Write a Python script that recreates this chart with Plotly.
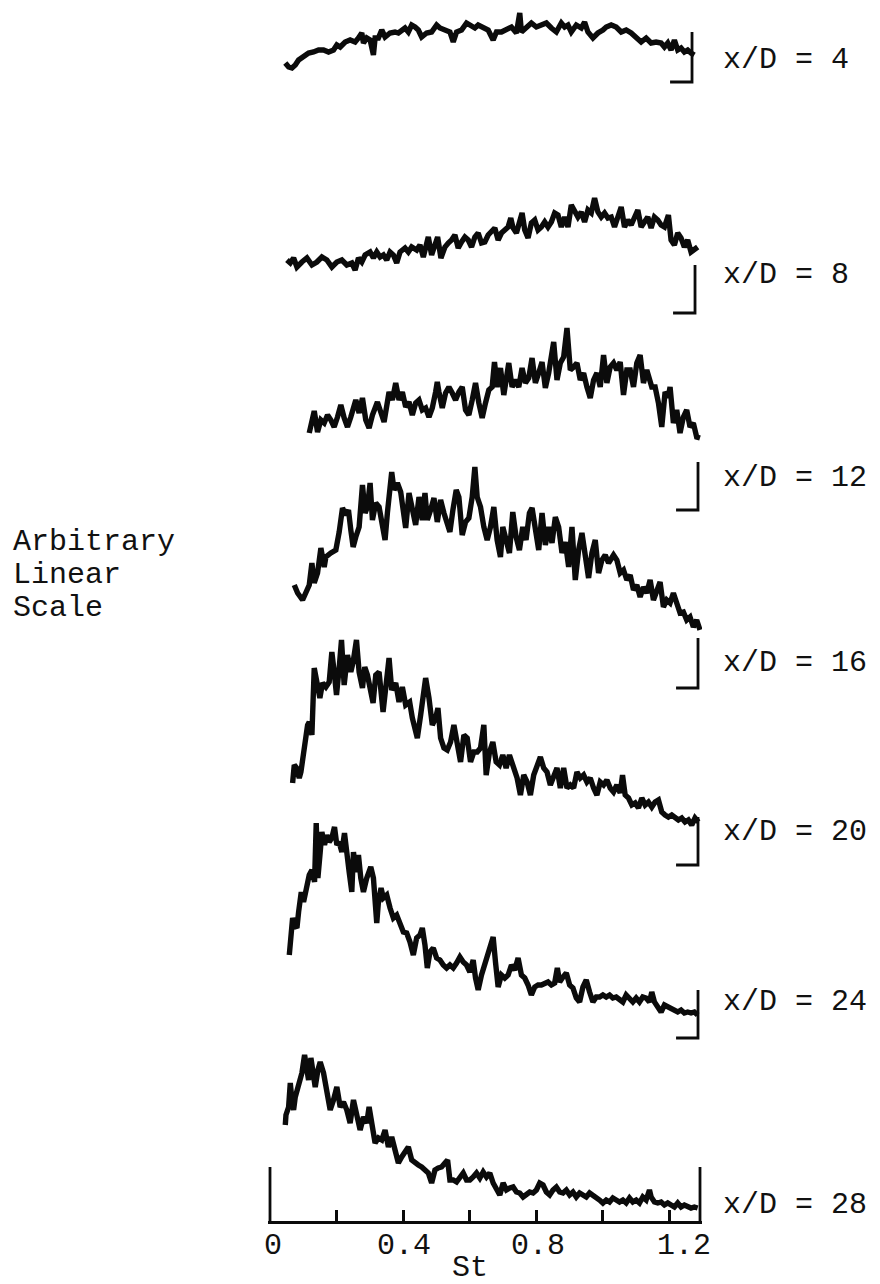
import plotly.graph_objects as go

# ---------------------------------------------------------------------------
# Spectra of the velocity fluctuation at successive stations x/D.
# Frequency is the Strouhal number St; amplitude is on an arbitrary linear
# scale, measured above each trace's own zero level.
# ---------------------------------------------------------------------------

STATIONS = [4, 8, 12, 16, 20, 24, 28]

ST_4 = [.046, .056, .066, .076, .086, .101, .116, .131, .146, .161,
        .176, .191, .201, .211, .226, .241, .256, .266, .276, .281,
        .291, .301, .311, .316, .326, .336, .346, .361, .376, .386,
        .396, .406, .416, .426, .436, .446, .456, .471, .486, .501,
        .511, .526, .541, .551, .561, .576, .591, .601, .616, .626,
        .641, .656, .671, .681, .696, .711, .726, .741, .751, .756,
        .771, .786, .801, .816, .831, .846, .861, .876, .886, .896,
        .906, .921, .936, .946, .956, .971, .986, 1.001, 1.011, 1.026,
        1.041, 1.056, 1.071, 1.086, 1.101, 1.116, 1.131, 1.146, 1.161, 1.176,
        1.186, 1.196, 1.206, 1.216, 1.226, 1.236, 1.246, 1.256, 1.266, 1.276]
AMP_4 = [19, 15, 14, 17, 22, 25, 29, 30, 32, 32,
         30, 32, 37, 35, 40, 42, 40, 44, 49, 39,
         44, 42, 27, 44, 44, 52, 45, 49, 50, 49,
         52, 54, 50, 57, 55, 52, 45, 49, 50, 57,
         54, 52, 50, 40, 50, 52, 59, 57, 54, 57,
         55, 52, 42, 50, 50, 52, 55, 49, 69, 50,
         55, 59, 55, 57, 59, 54, 50, 59, 55, 57,
         50, 57, 54, 60, 50, 44, 49, 52, 55, 57,
         55, 50, 52, 49, 44, 40, 44, 39, 40, 39,
         35, 39, 32, 42, 32, 34, 30, 32, 29, 27]

ST_8 = [.051, .061, .071, .081, .096, .111, .126, .141, .156, .171,
        .186, .201, .216, .231, .246, .256, .266, .276, .286, .301,
        .311, .321, .331, .341, .351, .361, .371, .381, .391, .406,
        .416, .426, .441, .451, .461, .471, .476, .486, .496, .504,
        .514, .526, .536, .546, .556, .566, .576, .586, .596, .606,
        .616, .626, .636, .646, .656, .666, .676, .686, .696, .706,
        .716, .724, .731, .741, .751, .758, .766, .776, .786, .796,
        .806, .816, .826, .836, .846, .856, .866, .876, .886, .896,
        .906, .916, .926, .936, .946, .956, .966, .976, .981, .986,
        .996, 1.006, 1.016, 1.026, 1.036, 1.046, 1.056, 1.066, 1.076, 1.086,
        1.096, 1.106, 1.116, 1.126, 1.136, 1.146, 1.156, 1.166, 1.176, 1.186,
        1.198, 1.206, 1.216, 1.226, 1.236, 1.246, 1.256, 1.266, 1.276, 1.286]
AMP_8 = [53, 50, 55, 46, 51, 55, 48, 51, 56, 53,
         46, 51, 53, 48, 50, 43, 55, 51, 58, 61,
         55, 61, 56, 58, 53, 61, 58, 50, 61, 65,
         61, 66, 63, 68, 56, 73, 76, 58, 70, 76,
         55, 66, 70, 73, 78, 65, 71, 76, 73, 66,
         76, 80, 70, 71, 78, 81, 85, 73, 80, 83,
         86, 95, 85, 80, 93, 100, 83, 75, 90, 93,
         83, 86, 91, 86, 91, 100, 98, 86, 96, 86,
         108, 103, 96, 101, 91, 103, 100, 115, 110, 101,
         96, 100, 95, 96, 86, 96, 106, 86, 93, 88,
         96, 103, 86, 90, 96, 85, 96, 93, 88, 86,
         98, 73, 68, 80, 75, 66, 73, 61, 63, 66]

ST_12 = [.118, .128, .133, .143, .153, .163, .173, .183, .193, .203,
         .213, .223, .233, .243, .258, .268, .278, .288, .298, .308,
         .323, .333, .343, .358, .368, .378, .388, .398, .408, .418,
         .428, .438, .448, .458, .468, .478, .488, .498, .503, .508,
         .518, .528, .538, .548, .558, .568, .578, .588, .598, .608,
         .618, .628, .638, .648, .658, .668, .675, .683, .693, .703,
         .713, .718, .728, .738, .748, .758, .768, .778, .788, .798,
         .808, .818, .828, .838, .853, .863, .873, .883, .893, .903,
         .913, .923, .933, .943, .953, .963, .973, .983, .993, 1.003,
         1.013, 1.023, 1.033, 1.043, 1.053, 1.063, 1.073, 1.083, 1.093, 1.103,
         1.113, 1.123, 1.133, 1.148, 1.158, 1.168, 1.178, 1.188, 1.198, 1.203,
         1.213, 1.223, 1.233, 1.243, 1.253, 1.263, 1.273, 1.283, 1.293]
AMP_12 = [77, 93, 99, 78, 90, 87, 95, 90, 83, 93,
          105, 92, 83, 93, 110, 97, 112, 90, 82, 95,
          108, 98, 88, 118, 110, 127, 110, 118, 103, 108,
          95, 107, 110, 100, 102, 93, 102, 118, 128, 118,
          102, 117, 123, 117, 110, 118, 123, 100, 95, 110,
          127, 107, 92, 107, 120, 123, 148, 123, 142, 115,
          137, 147, 123, 130, 123, 142, 127, 132, 152, 127,
          137, 148, 122, 137, 168, 130, 147, 153, 182, 140,
          143, 147, 130, 137, 123, 112, 130, 137, 123, 155,
          127, 143, 147, 140, 148, 115, 140, 140, 123, 147,
          155, 127, 140, 123, 123, 107, 83, 118, 113, 123,
          87, 100, 77, 93, 100, 83, 87, 73, 72]

ST_16 = [.073, .083, .098, .108, .118, .126, .133, .143, .153, .163,
         .168, .183, .198, .208, .218, .228, .236, .243, .250, .258,
         .268, .278, .286, .293, .301, .308, .318, .328, .338, .346,
         .353, .366, .373, .383, .393, .400, .408, .418, .428, .438,
         .448, .458, .466, .473, .483, .493, .503, .513, .523, .533,
         .541, .550, .560, .568, .578, .588, .598, .608, .616, .623,
         .633, .643, .653, .663, .673, .683, .693, .700, .710, .720,
         .730, .740, .750, .760, .770, .780, .788, .798, .808, .818,
         .828, .838, .848, .858, .868, .878, .888, .898, .908, .918,
         .928, .938, .948, .958, .968, .978, .988, .998, 1.008, 1.018,
         1.033, 1.043, 1.053, 1.063, 1.073, 1.083, 1.093, 1.103, 1.113, 1.123,
         1.133, 1.143, 1.153, 1.163, 1.173, 1.183, 1.193, 1.203, 1.213, 1.223,
         1.233, 1.243, 1.253, 1.263, 1.273, 1.283, 1.293]
AMP_16 = [103, 95, 88, 96, 103, 125, 105, 115, 140, 121,
          131, 135, 138, 156, 180, 173, 178, 158, 141, 151,
          161, 203, 175, 181, 205, 168, 185, 181, 166, 148,
          175, 216, 198, 205, 196, 175, 160, 195, 175, 163,
          191, 168, 195, 168, 178, 190, 166, 188, 175, 166,
          156, 178, 198, 191, 153, 166, 170, 191, 221, 191,
          181, 161, 148, 161, 181, 148, 131, 161, 145, 135,
          176, 151, 138, 161, 148, 175, 180, 155, 138, 175,
          143, 161, 145, 171, 161, 135, 146, 121, 161, 108,
          138, 155, 128, 110, 135, 148, 115, 128, 133, 125,
          133, 128, 115, 118, 108, 113, 98, 103, 91, 101,
          95, 108, 88, 98, 106, 81, 88, 85, 95, 85,
          75, 76, 68, 71, 61, 68, 58]

ST_20 = [.068, .073, .080, .088, .093, .103, .113, .118, .126, .133,
         .138, .143, .150, .158, .168, .178, .186, .193, .200, .208,
         .215, .223, .233, .243, .250, .260, .268, .278, .285, .293,
         .300, .310, .318, .328, .340, .348, .358, .366, .378, .388,
         .398, .408, .420, .428, .443, .453, .460, .468, .478, .488,
         .498, .505, .513, .523, .533, .543, .553, .563, .573, .583,
         .593, .603, .613, .623, .633, .643, .650, .660, .670, .680,
         .690, .700, .710, .720, .730, .743, .753, .763, .773, .783,
         .793, .803, .813, .823, .833, .843, .853, .863, .873, .883,
         .893, .903, .913, .923, .933, .943, .953, .963, .973, .983,
         .993, 1.003, 1.013, 1.023, 1.033, 1.043, 1.053, 1.060, 1.068, 1.078,
         1.088, 1.098, 1.108, 1.118, 1.128, 1.138, 1.148, 1.158, 1.168, 1.178,
         1.188, 1.198, 1.208, 1.218, 1.228, 1.238, 1.248, 1.258, 1.268, 1.278,
         1.288]
AMP_20 = [82, 100, 97, 87, 93, 120, 140, 143, 130, 197,
          187, 182, 167, 182, 178, 183, 213, 193, 170, 197,
          225, 180, 210, 193, 203, 225, 193, 177, 198, 190,
          180, 162, 190, 193, 153, 182, 207, 175, 182, 163,
          178, 160, 163, 147, 127, 150, 170, 187, 167, 140,
          147, 157, 127, 117, 115, 123, 140, 123, 103, 130,
          127, 103, 113, 113, 117, 140, 90, 113, 123, 103,
          100, 110, 97, 110, 100, 87, 70, 90, 83, 70,
          90, 100, 108, 97, 93, 80, 87, 97, 77, 97,
          77, 80, 77, 93, 87, 90, 83, 87, 77, 70,
          83, 80, 85, 77, 73, 80, 72, 90, 70, 67,
          60, 62, 57, 67, 60, 63, 58, 63, 65, 53,
          50, 48, 50, 48, 45, 47, 43, 45, 40, 47,
          43]

ST_24 = [.058, .061, .068, .074, .081, .086, .094, .101, .111, .118,
         .126, .134, .139, .144, .151, .156, .164, .171, .178, .186,
         .194, .201, .208, .216, .224, .231, .238, .246, .251, .258,
         .266, .273, .281, .291, .303, .311, .321, .326, .334, .341,
         .351, .361, .371, .381, .391, .401, .411, .421, .431, .441,
         .451, .458, .466, .473, .481, .491, .501, .511, .521, .531,
         .541, .551, .561, .571, .581, .591, .601, .611, .618, .626,
         .636, .646, .656, .666, .671, .678, .686, .696, .706, .716,
         .726, .736, .746, .756, .766, .776, .786, .796, .806, .816,
         .826, .836, .846, .856, .864, .871, .881, .891, .901, .911,
         .921, .931, .941, .951, .961, .971, .981, .991, 1.001, 1.011,
         1.021, 1.031, 1.041, 1.051, 1.061, 1.071, 1.081, 1.091, 1.101, 1.111,
         1.121, 1.131, 1.141, 1.148, 1.156, 1.166, 1.176, 1.186, 1.196, 1.206,
         1.216, 1.226, 1.236, 1.246, 1.256, 1.266, 1.276, 1.286]
AMP_24 = [83, 100, 120, 113, 110, 126, 146, 136, 150, 163,
          168, 156, 215, 160, 186, 206, 193, 203, 196, 200,
          211, 193, 196, 186, 205, 180, 166, 146, 186, 166,
          183, 160, 146, 160, 171, 160, 115, 136, 150, 140,
          143, 130, 120, 123, 113, 106, 105, 96, 83, 100,
          103, 110, 93, 70, 86, 90, 80, 78, 73, 70,
          73, 70, 75, 81, 76, 73, 66, 78, 60, 48,
          63, 73, 83, 93, 101, 76, 51, 63, 60, 63,
          73, 68, 80, 63, 60, 53, 43, 51, 53, 53,
          55, 56, 53, 55, 70, 56, 61, 65, 53, 50,
          40, 36, 51, 58, 46, 36, 41, 41, 43, 41,
          43, 40, 41, 38, 36, 43, 40, 36, 40, 36,
          41, 40, 36, 46, 36, 30, 26, 33, 31, 30,
          28, 26, 28, 25, 26, 25, 26, 23]

ST_28 = [.046, .048, .056, .061, .066, .071, .076, .086, .096, .104,
         .111, .116, .123, .131, .136, .144, .151, .161, .171, .181,
         .191, .201, .211, .221, .231, .241, .251, .261, .271, .281,
         .291, .298, .306, .316, .326, .336, .346, .356, .366, .376,
         .386, .396, .406, .416, .426, .436, .446, .456, .466, .476,
         .486, .496, .506, .516, .526, .534, .541, .551, .561, .571,
         .581, .591, .601, .611, .621, .631, .641, .651, .661, .671,
         .681, .691, .701, .711, .721, .731, .741, .751, .761, .771,
         .781, .791, .801, .811, .821, .831, .841, .851, .861, .871,
         .881, .891, .901, .911, .921, .931, .941, .951, .961, .971,
         .981, .991, 1.001, 1.011, 1.021, 1.031, 1.041, 1.051, 1.061, 1.071,
         1.081, 1.091, 1.101, 1.111, 1.121, 1.131, 1.141, 1.146, 1.156, 1.166,
         1.176, 1.186, 1.196, 1.206, 1.216, 1.226, 1.236, 1.246, 1.256, 1.266,
         1.276, 1.286]
AMP_28 = [97, 107, 115, 139, 122, 112, 125, 139, 149, 167,
          152, 142, 164, 145, 135, 152, 160, 149, 132, 112,
          122, 135, 115, 120, 112, 99, 122, 109, 92, 105,
          99, 115, 95, 79, 84, 82, 92, 75, 85, 72,
          59, 65, 69, 75, 62, 59, 57, 55, 52, 49,
          39, 52, 54, 55, 59, 62, 42, 42, 40, 45,
          49, 42, 42, 45, 49, 44, 50, 45, 49, 39,
          32, 27, 39, 32, 34, 35, 30, 29, 25, 27,
          30, 29, 32, 39, 37, 30, 27, 32, 35, 30,
          29, 32, 27, 30, 25, 29, 27, 25, 29, 27,
          25, 22, 19, 22, 20, 24, 22, 20, 22, 19,
          24, 20, 22, 19, 25, 22, 32, 25, 20, 19,
          20, 17, 19, 17, 15, 19, 15, 17, 15, 14,
          15, 14]

ST_TICKS = [0.2, 0.4, 0.6, 0.8, 1.0, 1.2]
ST_TICK_LABELS = ["0", "0.4", "0.8", "1.2"]

# ---------------------------------------------------------------------------
# Layout of the stacked traces (vertical units: one unit = one pixel)
# ---------------------------------------------------------------------------
SERIES = {4: (ST_4, AMP_4), 8: (ST_8, AMP_8), 12: (ST_12, AMP_12),
          16: (ST_16, AMP_16), 20: (ST_20, AMP_20), 24: (ST_24, AMP_24),
          28: (ST_28, AMP_28)}
ZERO_LEVEL = {4: 1140, 8: 909, 12: 712, 16: 534, 20: 357, 24: 184, 28: 0}
BAR_X = {4: 1.269, 8: 1.278, 12: 1.287, 16: 1.287, 20: 1.287, 24: 1.287, 28: 1.293}
BAR_H = {4: 50, 8: 48, 12: 48, 16: 50, 20: 48, 24: 48, 28: 55}
BAR_FOOT = 0.066
LABEL_DY = {4: 22, 8: 38, 12: 32, 16: 25, 20: 33, 24: 36, 28: 17}
TICK_LABEL_X = [0.009, 0.404, 0.806, 1.245]

W, H = 880, 1284
M_L, M_R, M_T, M_B = 268, 178, 0, 56
X_RANGE = [-0.006, 1.299]
Y_RANGE = [-6, 1222]

FONT = dict(family="Liberation Mono, Courier New, monospace", size=30, color="#111111")
INK = "#0b0b0b"

fig = go.Figure()

for xd in STATIONS:
    st, amp = SERIES[xd]
    base = ZERO_LEVEL[xd]
    fig.add_trace(go.Scatter(
        x=st, y=[base + a for a in amp], mode="lines",
        line=dict(color=INK, width=5.4), hoverinfo="skip", showlegend=False))

    # calibration bracket marking the trace's zero level
    bx, bh = BAR_X[xd], BAR_H[xd]
    if xd == 28:
        bar_x, bar_y = [bx, bx], [base, base + bh]
    else:
        bar_x, bar_y = [bx - BAR_FOOT, bx, bx], [base, base, base + bh]
    fig.add_trace(go.Scatter(
        x=bar_x, y=bar_y, mode="lines",
        line=dict(color=INK, width=2.8), hoverinfo="skip", showlegend=False))

    fig.add_annotation(
        text=f"x/D = {xd}", xref="paper", x=(721 - M_L) / (W - M_L - M_R),
        xanchor="left", yref="y", y=base + LABEL_DY[xd], yanchor="middle",
        showarrow=False, font=FONT)

# tall end mark at St = 0
fig.add_trace(go.Scatter(
    x=[0, 0], y=[0, BAR_H[28]], mode="lines",
    line=dict(color=INK, width=2.8), hoverinfo="skip", showlegend=False))

# Strouhal number labels and title
for lx, lt in zip(TICK_LABEL_X, ST_TICK_LABELS):
    fig.add_annotation(text=lt, x=lx, xref="x", y=0, yref="y",
                       yanchor="middle", yshift=-24, showarrow=False, font=FONT)
fig.add_annotation(text="St", x=0.6, xref="x", y=0, yref="y",
                   yanchor="middle", yshift=-46, showarrow=False, font=FONT)

# ordinate caption
for i, word in enumerate(["Arbitrary", "Linear", "Scale"]):
    fig.add_annotation(text=word, xref="paper", x=(11 - M_L) / (W - M_L - M_R),
                       xanchor="left", yref="y", y=680 - 33 * i, yanchor="middle",
                       showarrow=False, font=FONT)

fig.update_layout(
    width=W, height=H,
    margin=dict(l=M_L, r=M_R, t=M_T, b=M_B),
    paper_bgcolor="white", plot_bgcolor="white",
    showlegend=False,
    xaxis=dict(range=X_RANGE, showgrid=False, zeroline=False,
               showline=True, linecolor=INK, linewidth=3,
               anchor="free", position=(0 - Y_RANGE[0]) / (Y_RANGE[1] - Y_RANGE[0]),
               tickmode="array", tickvals=ST_TICKS, ticks="inside",
               ticklen=11, tickwidth=2.6, tickcolor=INK,
               showticklabels=False),
    yaxis=dict(range=Y_RANGE, visible=False, showgrid=False, zeroline=False),
)

fig.write_html("out.html")
